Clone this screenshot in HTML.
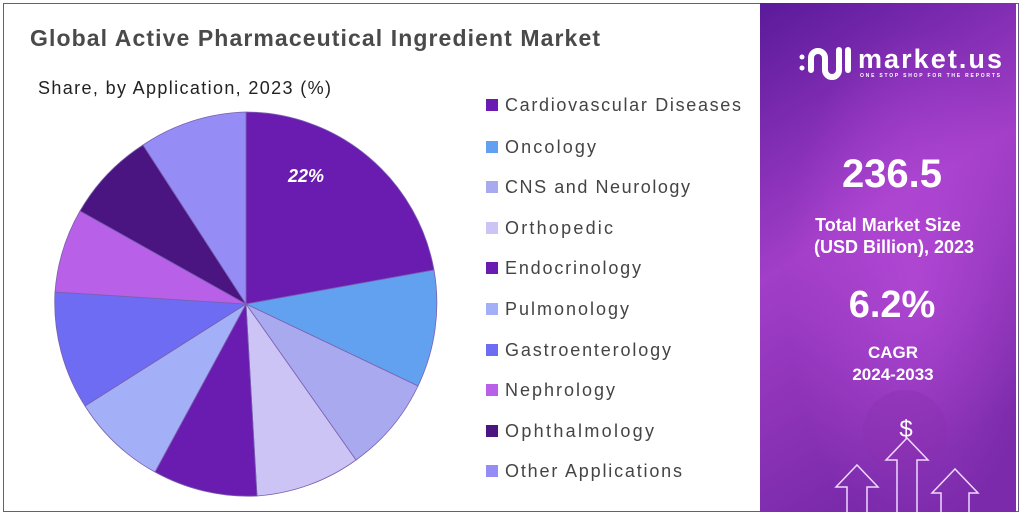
<!DOCTYPE html>
<html><head><meta charset="utf-8"><style>
body{margin:0;width:1024px;height:519px;background:#fff;overflow:hidden;font-family:"Liberation Sans",sans-serif}
</style></head><body>
<svg width="1024" height="519" viewBox="0 0 1024 519" xmlns="http://www.w3.org/2000/svg">
<defs>
<linearGradient id="bg" x1="0" y1="0" x2="0.3" y2="1">
<stop offset="0" stop-color="#5a1a9a"/><stop offset="0.5" stop-color="#a23ec8"/><stop offset="1" stop-color="#7a2aaa"/>
</linearGradient>
<radialGradient id="gl" cx="0.6" cy="0.55" r="0.5"><stop offset="0" stop-color="#c050e0" stop-opacity="0.6"/><stop offset="1" stop-color="#c050e0" stop-opacity="0"/></radialGradient>
</defs>
<rect x="3.5" y="3.5" width="1015" height="508" fill="#fff" stroke="#6a5a8a" stroke-width="1"/>
<rect x="760" y="3" width="256" height="509" fill="url(#bg)"/>
<rect x="760" y="3" width="256" height="509" fill="url(#gl)"/>
<text x="30" y="46" font-size="23" font-weight="bold" fill="#4a4a4a" textLength="570">Global Active Pharmaceutical Ingredient Market</text>
<text x="38" y="94" font-size="18" fill="#222" textLength="293">Share, by Application, 2023 (%)</text>
<g stroke="#7a60b0" stroke-width="0.8">
<path d="M246,304 L246,112 A192,192 0 0 1 434,270 Z" fill="#6a1cb0"/>
<path d="M246,304 L434,270 A192,192 0 0 1 418,386 Z" fill="#62a0f0"/>
<path d="M246,304 L418,386 A192,192 0 0 1 356,460 Z" fill="#a9a9ef"/>
<path d="M246,304 L356,460 A192,192 0 0 1 257,496 Z" fill="#ccc4f5"/>
<path d="M246,304 L257,496 A192,192 0 0 1 155,472 Z" fill="#6a1cb0"/>
<path d="M246,304 L155,472 A192,192 0 0 1 85,406 Z" fill="#a3b0f8"/>
<path d="M246,304 L85,406 A192,192 0 0 1 55,292 Z" fill="#6d6cf2"/>
<path d="M246,304 L55,292 A192,192 0 0 1 80,211 Z" fill="#b860e8"/>
<path d="M246,304 L80,211 A192,192 0 0 1 143,145 Z" fill="#4a1580"/>
<path d="M246,304 L143,145 A192,192 0 0 1 246,112 Z" fill="#968cf5"/>
</g>
<text x="288" y="182" font-size="18" font-weight="bold" font-style="italic" fill="#fff">22%</text>
<g font-size="18" fill="#444">
<rect x="486" y="99" width="12" height="12" fill="#6a1cb0"/><text x="505" y="111" textLength="236">Cardiovascular Diseases</text>
<rect x="486" y="141" width="12" height="12" fill="#62a0f0"/><text x="505" y="153" textLength="91">Oncology</text>
<rect x="486" y="181" width="12" height="12" fill="#a9a9ef"/><text x="505" y="193" textLength="185">CNS and Neurology</text>
<rect x="486" y="222" width="12" height="12" fill="#ccc4f5"/><text x="505" y="234" textLength="108">Orthopedic</text>
<rect x="486" y="262" width="12" height="12" fill="#6a1cb0"/><text x="505" y="274" textLength="136">Endocrinology</text>
<rect x="486" y="303" width="12" height="12" fill="#a3b0f8"/><text x="505" y="315" textLength="124">Pulmonology</text>
<rect x="486" y="344" width="12" height="12" fill="#6d6cf2"/><text x="505" y="356" textLength="166">Gastroenterology</text>
<rect x="486" y="384" width="12" height="12" fill="#b860e8"/><text x="505" y="396" textLength="110">Nephrology</text>
<rect x="486" y="425" width="12" height="12" fill="#4a1580"/><text x="505" y="437" textLength="149">Ophthalmology</text>
<rect x="486" y="465" width="12" height="12" fill="#968cf5"/><text x="505" y="477" textLength="177">Other Applications</text>
</g>
<g fill="none" stroke="#fff" stroke-width="6" stroke-linecap="round">
<circle cx="802" cy="57" r="2.5" fill="#fff" stroke="none"/>
<circle cx="802" cy="68" r="2.5" fill="#fff" stroke="none"/>
<path d="M811,70 V58 A7,7 0 0 1 825,58 V70 A7,7 0 0 0 839,70"/>
<path d="M839,70 V50"/>
<path d="M848,70 V50"/>
</g>
<text x="858" y="68" font-size="27" font-weight="bold" fill="#fff" textLength="144">market.us</text>
<text x="860" y="77" font-size="5" font-weight="bold" fill="#fff" textLength="140">ONE STOP SHOP FOR THE REPORTS</text>
<g fill="#fff" text-anchor="middle" font-weight="bold">
<text x="892" y="187" font-size="40">236.5</text>
<text x="888" y="231" font-size="18">Total Market Size</text>
<text x="894" y="253" font-size="18">(USD Billion), 2023</text>
<text x="892" y="317" font-size="38">6.2%</text>
<text x="893" y="358" font-size="17">CAGR</text>
<text x="893" y="380" font-size="17">2024-2033</text>
</g>
<circle cx="905" cy="432" r="42" fill="#8a30b0" opacity="0.4"/>
<text x="906" y="437" font-size="24" fill="#fff" text-anchor="middle">$</text>
<g fill="none" stroke="#f0d8ff" stroke-width="1.5">
<path d="M847,512 V487 H836 L857,465 L878,487 H867 V512"/>
<path d="M897,512 V460 H886 L907,438 L928,460 H917 V512"/>
<path d="M941,512 V493 H932 L955,469 L978,493 H969 V512"/>
</g>
</svg>
</body></html>
